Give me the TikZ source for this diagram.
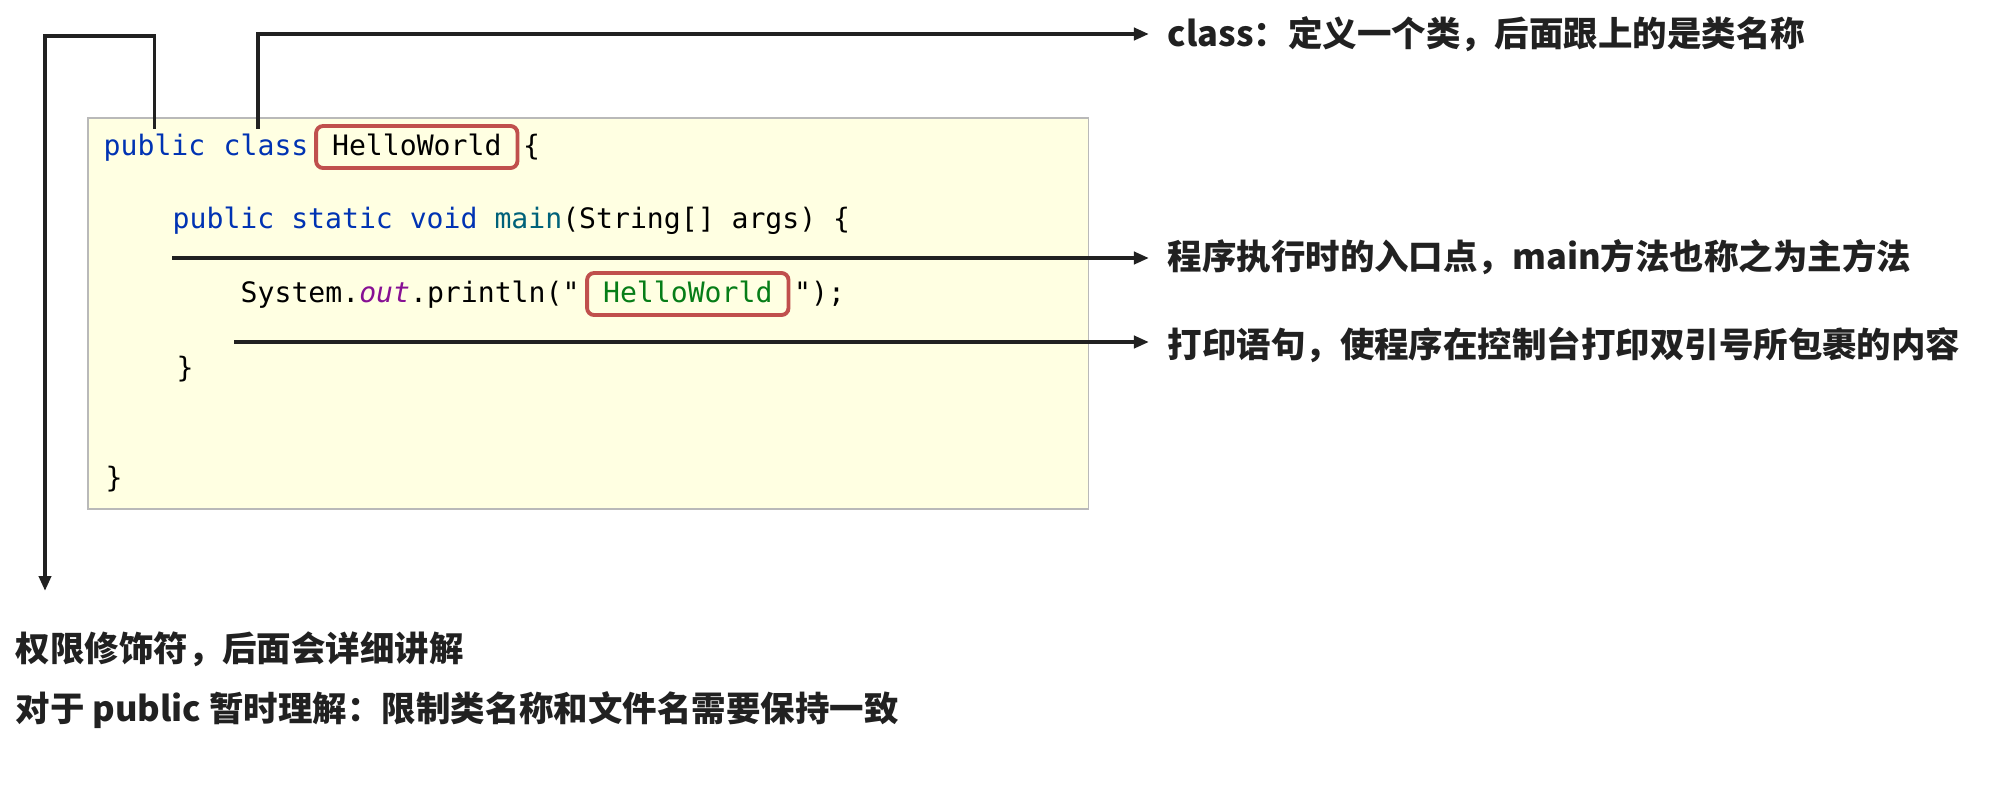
\documentclass[tikz,border=0pt]{standalone}
\usepackage{fontspec}
\setmonofont{DejaVu Sans Mono}
\newfontfamily\cjk{Noto Sans CJK SC}
\usetikzlibrary{arrows.meta, positioning}

\definecolor{codebg}{RGB}{255,255,226}
\definecolor{kwblue}{RGB}{0,51,179}
\definecolor{fnteal}{RGB}{0,98,122}
\definecolor{fieldpurple}{RGB}{135,16,148}
\definecolor{strgreen}{RGB}{6,125,23}
\definecolor{markred}{RGB}{192,80,77}

\tikzset{
  code/.style={font=\ttfamily\fontsize{8}{10}\selectfont, inner sep=0pt, text height=0.75em, text depth=0.25em, anchor=west},
  markbox/.style={code, draw=markred, line width=1.1pt, rounded corners=2pt, inner xsep=0.16cm, minimum height=0.42cm},
  note/.style={font=\cjk\bfseries\fontsize{9.8}{12}\selectfont, text=black!87, inner sep=0pt, anchor=west},
  pointer/.style={line width=1.1pt, draw=black!87, -{Triangle[length=0.15cm,width=0.12cm]}},
}

\begin{document}
\begin{tikzpicture}[x=0.01cm, y=-0.01cm]
    \useasboundingbox (0,0) rectangle (2002,793);
    % code panel
    \node[draw=gray!55, line width=0.5pt, fill=codebg, minimum width=10cm, minimum height=3.91cm, inner sep=0pt, anchor=north west] (panel) at (87,117) {};
    % line 1
    \node[code, text=kwblue] (kwpub) at (103,147) {public};
    \node[code, text=kwblue, right=0.17cm of kwpub] (kwcls) {class};
    \node[markbox, right=0.05cm of kwcls] (clsname) {HelloWorld};
    \node[code, right=0.03cm of clsname] (open1) {\{};
    % line 2
    \node[code] (mainline) at (172,220) {{\color{kwblue}public static void} {\color{fnteal}main}(String[] args) \{};
    % line 3
    \node[code] (printa) at (240,294) {System.{\color{fieldpurple}\itshape out}.println("};
    \node[markbox, text=strgreen, right=0.05cm of printa] (msg) {HelloWorld};
    \node[code, right=0.03cm of msg] (printb) {");};
    % closing braces
    \node[code] (close2) at (176,369) {\}};
    \node[code] (close1) at (105,479) {\}};

    % notes
    \node[note] (clsnote) at (1167,34) {class：定义一个类，后面跟上的是类名称};
    \node[note] (mainnote) at (1167,257) {程序执行时的入口点，main方法也称之为主方法};
    \node[note] (printnote) at (1167,345) {打印语句，使程序在控制台打印双引号所包裹的内容};
    \node[note] (pubnote) at (15,649) {权限修饰符，后面会详细讲解};
    \node[note] (pubnote2) at (15,710) {对于 public 暂时理解：限制类名称和文件名需要保持一致};

    % connectors
    \coordinate (pubturn) at (45,36);
    \coordinate (pubend) at (45,591);
    \coordinate (mainfrom) at (172,258);
    \coordinate (printfrom) at (234,342);
    \draw[pointer] (kwpub.north) |- (pubturn) -- (pubend);
    \draw[pointer, shorten >=0.18cm] ([xshift=-0.08cm]kwcls.north) |- (clsnote.west);
    \draw[pointer, shorten >=0.18cm] (mainfrom) -- (mainfrom -| mainnote.west);
    \draw[pointer, shorten >=0.18cm] (printfrom) -- (printfrom -| printnote.west);
\end{tikzpicture}
\end{document}
